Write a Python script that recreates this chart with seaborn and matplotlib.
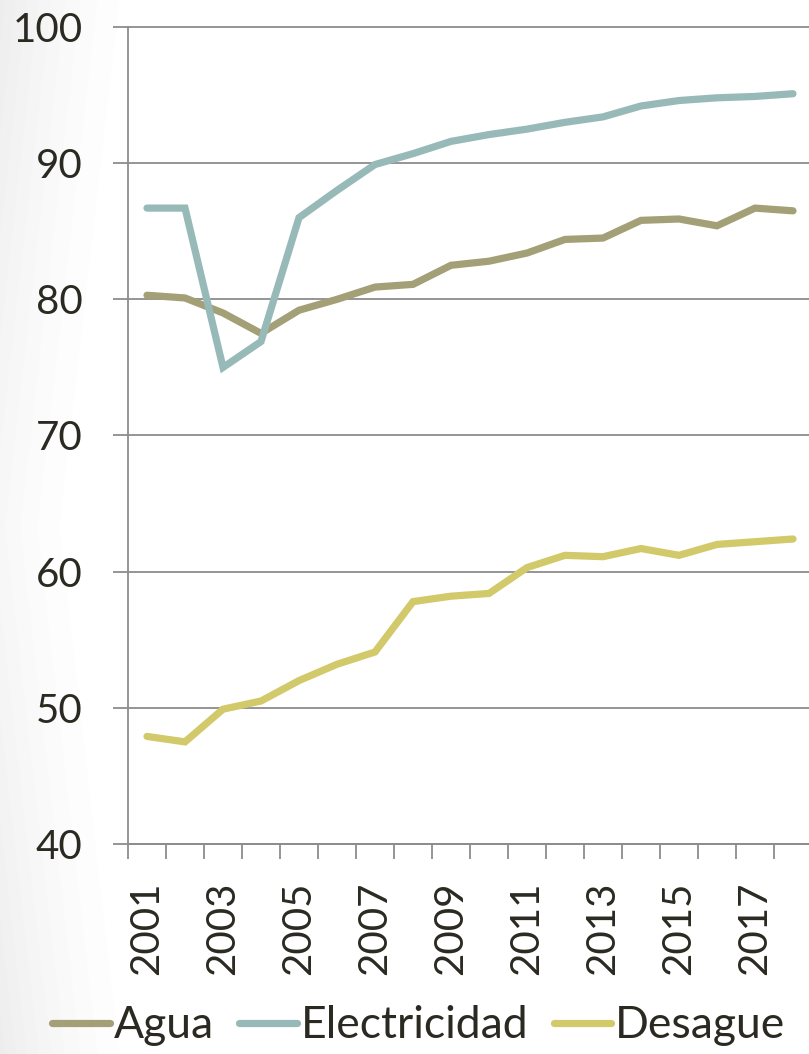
import numpy as np
import pandas as pd
import matplotlib
matplotlib.use("Agg")
import matplotlib.pyplot as plt
import seaborn as sns

years = list(range(2001, 2019))
agua = [80.3, 80.1, 79.0, 77.5, 79.2, 80.0, 80.9, 81.1, 82.5, 82.8, 83.4, 84.4, 84.5, 85.8, 85.9, 85.4, 86.7, 86.5]
electricidad = [86.7, 86.7, 75.0, 76.9, 86.0, 88.0, 89.9, 90.7, 91.6, 92.1, 92.5, 93.0, 93.4, 94.2, 94.6, 94.8, 94.9, 95.1]
desague = [47.9, 47.5, 49.9, 50.5, 52.0, 53.2, 54.1, 57.8, 58.2, 58.4, 60.3, 61.2, 61.1, 61.7, 61.2, 62.0, 62.2, 62.4]
series_names = ["Agua", "Electricidad", "Desague"]
colors = ["#A3A077", "#97BAB8", "#D1C96A"]
tick_years = [str(y) for y in range(2001, 2019, 2)]

df = pd.concat([
    pd.DataFrame({"year": years, "value": vals, "serie": name})
    for name, vals in zip(series_names, [agua, electricidad, desague])
])

sns.set_theme(style="white")
plt.rcParams["font.family"] = ["Lato", "DejaVu Sans"]
text_color = "#2B2A22"
grid_color = "#8C8C8C"

W, H = 809, 1054
fig = plt.figure(figsize=(W / 100, H / 100), dpi=100)
fig.patch.set_facecolor("white")

# faint slide background shading at the left edge
bg = fig.add_axes([0, 0, 1, 1], zorder=-10)
yy, xx = np.mgrid[0:H, 0:W]
edge = np.minimum(yy, H - yy) / H
shade = np.clip(1 - (xx + 120 * edge) / 140.0, 0, 1) ** 1.5 * 0.07
img = 1 - shade
bg.imshow(img, cmap="gray", vmin=0, vmax=1, aspect="auto", extent=[0, 1, 0, 1])
bg.axis("off")

left, right, top, bottom = 128, 812, 27, 844
ax = fig.add_axes([left / W, 1 - bottom / H, (right - left) / W, (bottom - top) / H])
ax.patch.set_alpha(0)

sns.lineplot(data=df, x="year", y="value", hue="serie", palette=colors,
             hue_order=series_names, linewidth=5.2, ax=ax, legend=True,
             solid_capstyle="round", solid_joinstyle="miter")

ax.set_xlim(2000.5, 2018.5)
ax.set_ylim(40, 100)
ax.set_yticks([40, 50, 60, 70, 80, 90, 100])
ax.yaxis.grid(True, color=grid_color, linewidth=1.3)
ax.set_axisbelow(True)
for ln in ax.get_ygridlines():
    ln.set_clip_on(False)

ax.set_xticks([int(t) for t in tick_years])
ax.set_xticklabels(tick_years, rotation=90)
ax.set_xticks(np.arange(2000.5, 2018.6, 1.0), minor=True)
ax.tick_params(axis="x", which="major", length=0, pad=27, labelsize=29, labelcolor=text_color)
ax.tick_params(axis="x", which="minor", length=10.8, width=1.3, color=grid_color, direction="out", bottom=True)
ax.tick_params(axis="y", which="major", length=10.8, width=1.3, color=grid_color, direction="out",
               pad=22, labelsize=29, labelcolor=text_color, left=True)

for s in ["top", "right"]:
    ax.spines[s].set_visible(False)
for s in ["left", "bottom"]:
    ax.spines[s].set_color(grid_color)
    ax.spines[s].set_linewidth(1.3)

ax.set_xlabel("")
ax.set_ylabel("")

leg = ax.legend(loc="center", bbox_to_anchor=(419 / W, 1 - 1026 / H), bbox_transform=fig.transFigure,
                ncol=3, frameon=False, fontsize=32, handlelength=1.3, handletextpad=0.09,
                columnspacing=0.56, borderaxespad=0, borderpad=0)
for t in leg.get_texts():
    t.set_color(text_color)
for h in leg.get_lines():
    h.set_linewidth(5.2)
    h.set_solid_capstyle("round")

fig.savefig("out.png", dpi=100)
